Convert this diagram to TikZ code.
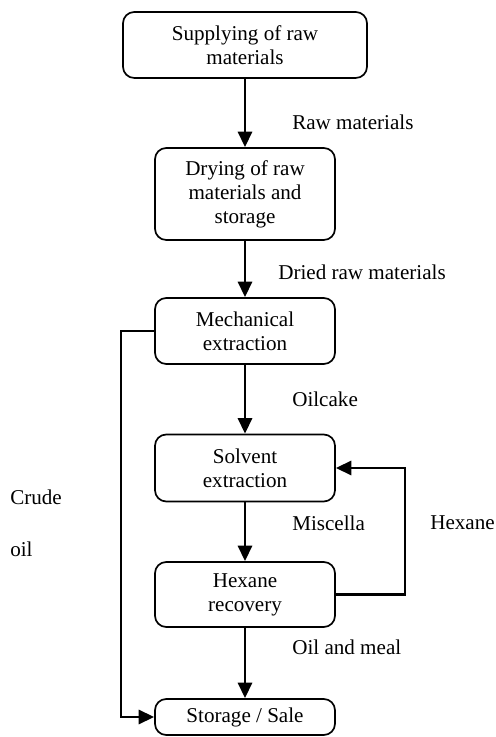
\documentclass[tikz,border=0pt]{standalone}
\usepackage{fontspec}
\setmainfont{Liberation Serif}
\usetikzlibrary{arrows.meta}
\tikzset{
  box/.style={draw, rounded corners=8pt, line width=1.2pt, align=center, inner sep=2pt},
  flow/.style={line width=1.9pt, -{Triangle[length=11pt,width=10pt]}},
  lbl/.style={anchor=west, inner sep=0pt}
}
\begin{document}
\begin{tikzpicture}[font=\fontsize{15}{17}\selectfont]
    \useasboundingbox (0,0) rectangle (12.375,18.425);
    % process steps
    \node[box, minimum width=6.1cm, minimum height=1.65cm] (supply) at (6.125,17.3) {Supplying of raw\\materials};
    \node[box, minimum width=4.5cm, minimum height=2.3cm] (drying) at (6.125,13.575) {Drying of raw\\materials and\\storage};
    \node[box, minimum width=4.5cm, minimum height=1.65cm] (mech) at (6.125,10.15) {Mechanical\\extraction};
    \node[box, minimum width=4.5cm, minimum height=1.675cm] (solvent) at (6.125,6.725) {Solvent\\extraction};
    \node[box, minimum width=4.5cm, minimum height=1.625cm] (recovery) at (6.125,3.5625) {Hexane\\recovery};
    \node[box, minimum width=4.5cm, minimum height=0.9cm] (storage) at (6.125,0.5) {Storage / Sale};
    % main line
    \draw[flow] (supply) -- (drying);
    \draw[flow] (drying) -- (mech);
    \draw[flow] (mech) -- (solvent);
    \draw[flow] (solvent) -- (recovery);
    \draw[flow] (recovery) -- (storage);
    % side lines
    \draw[flow] (mech.west) -- (3.025,10.15) |- (storage.west);
    \draw[flow] (recovery.east) -- (10.125,3.5625) |- (solvent.east);
    % stream names
    \node[lbl] (rawlbl) at (7.3,15.375) {Raw materials};
    \node[lbl] (driedlbl) at (6.95,11.625) {Dried raw materials};
    \node[lbl] (cakelbl) at (7.3,8.45) {Oilcake};
    \node[lbl] (miscellalbl) at (7.3,5.35) {Miscella};
    \node[lbl] (hexanelbl) at (10.75,5.35) {Hexane};
    \node[lbl] (meallbl) at (7.3,2.25) {Oil and meal};
    \node[lbl] (crudelbl) at (0.25,6.0) {Crude};
    \node[lbl] (oillbl) at (0.25,4.7) {oil};
\end{tikzpicture}
\end{document}
